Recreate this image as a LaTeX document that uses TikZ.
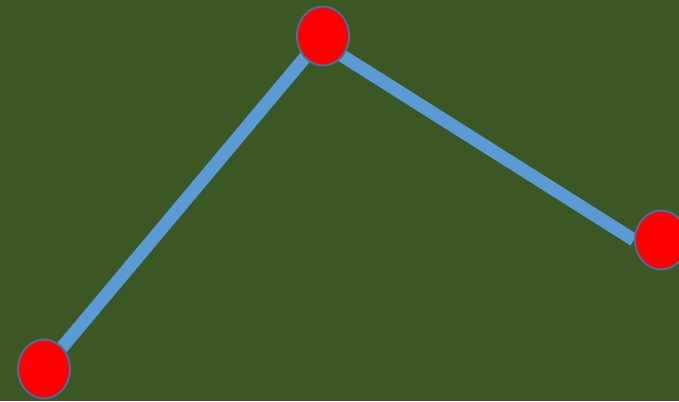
\documentclass[tikz,border=0pt]{standalone}
\usetikzlibrary{shapes.geometric,calc}
\definecolor{bg}{HTML}{3A5724}
\definecolor{linkblue}{HTML}{5B9BD5}
\definecolor{rimblue}{HTML}{41719C}
\pgfdeclarelayer{back}
\pgfdeclarelayer{lines}
\pgfsetlayers{back,lines,main}
\begin{document}
\begin{tikzpicture}[x=1pt,y=-1pt,
  dot/.style={ellipse, draw=rimblue, line width=2pt, fill=red, minimum width=52pt, minimum height=59pt, inner sep=0pt},
  link/.style={draw=linkblue, line width=13pt}]
\useasboundingbox (0,0) rectangle (679,401);
\clip (0,0) rectangle (679,401);
\node[dot] (a) at (44,369) {};
\node[dot] (b) at (323,36) {};
\node[dot] (c) at (661,240) {};
\begin{pgfonlayer}{lines}
\draw[link] (a.center) -- (b.center);
\draw[link] ($(b.center)+(0,7.6)$) -- (c.west);
\end{pgfonlayer}
\begin{pgfonlayer}{back}
\fill[bg] (0,0) rectangle (679,401);
\end{pgfonlayer}
\end{tikzpicture}
\end{document}
